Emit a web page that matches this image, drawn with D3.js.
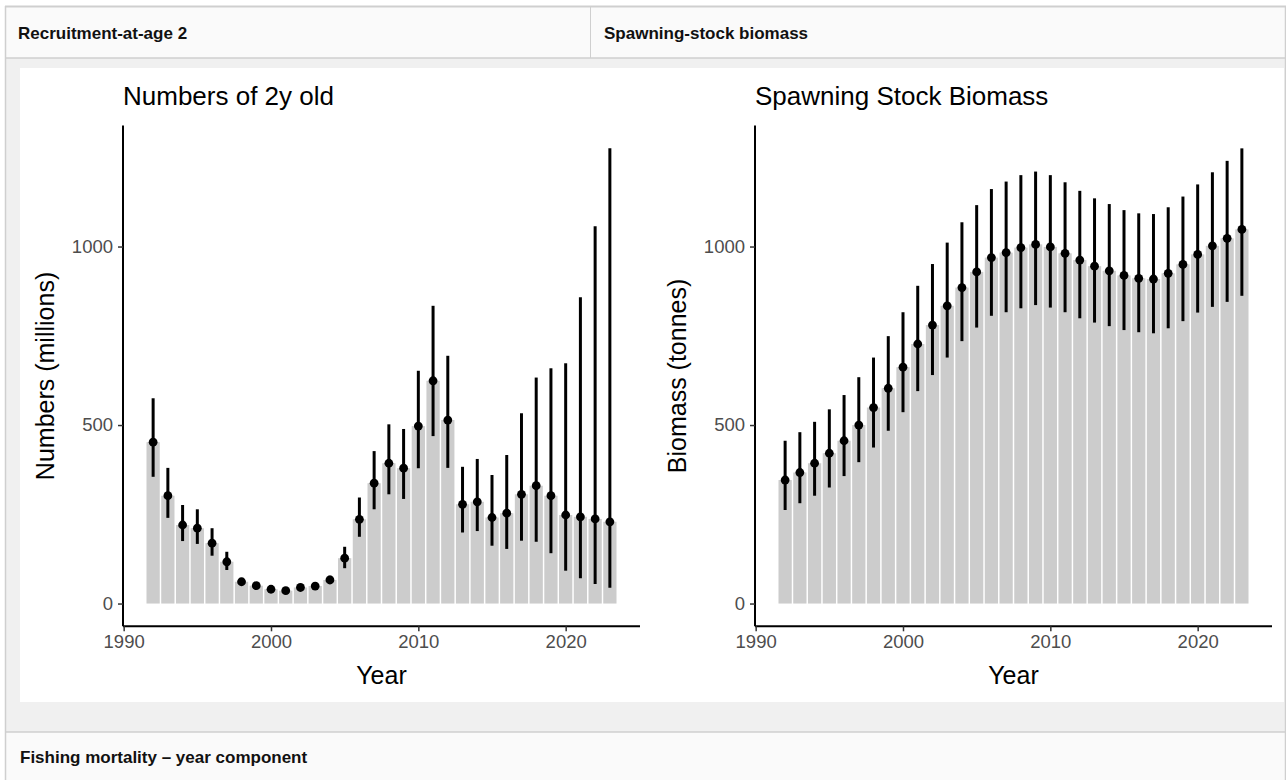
<!DOCTYPE html>
<html>
<head>
<meta charset="utf-8">
<script src="https://cdn.jsdelivr.net/npm/d3@7"></script>
<style>
  html, body { margin: 0; padding: 0; background: #ffffff; }
  svg { display: block; }
  text { font-family: "Liberation Sans", Arial, Helvetica, sans-serif; }
</style>
</head>
<body>
<svg id="chart" width="1286" height="780"></svg>
<script>
// ---- data ----
const years = [1992,1993,1994,1995,1996,1997,1998,1999,2000,2001,2002,2003,2004,2005,2006,2007,
               2008,2009,2010,2011,2012,2013,2014,2015,2016,2017,2018,2019,2020,2021,2022,2023];

const recEst  = [452,302,220,211,169,117,61,50,40,36,45,49,66,127,236,337,
                 393,379,497,624,514,278,285,241,253,306,330,302,248,243,237,229];
const recLow  = [355,240,175,167,134,94,52,43,34,31,38,42,56,99,187,264,
                 306,293,379,469,380,199,203,162,153,176,173,141,92,71,55,44];
const recHigh = [575,380,276,264,211,145,70,57,46,42,52,57,78,159,297,427,
                 502,489,652,834,694,383,405,360,416,533,633,659,673,858,1057,1275];

const ssbEst  = [346,367,393,421,456,500,549,603,662,727,780,834,885,929,969,983,
                 997,1006,999,981,962,945,932,919,911,909,925,950,978,1002,1023,1048];
const ssbLow  = [262,281,302,325,357,396,437,484,536,595,640,689,735,773,806,816,
                 827,836,829,816,799,787,777,766,760,757,771,791,815,831,845,862];
const ssbHigh = [456,480,509,544,584,634,689,749,816,890,951,1011,1068,1116,1161,1182,
                 1200,1210,1200,1180,1156,1135,1119,1102,1093,1091,1110,1140,1174,1208,1240,1275];

const xTicks = [1990, 2000, 2010, 2020];
const yTicks = [0, 500, 1000];

const panelHeaders = ["Recruitment-at-age 2", "Spawning-stock biomass"];
const lowerHeader = "Fishing mortality \u2013 year component";

const plots = [
  { title: "Numbers of 2y old", ylab: "Numbers (millions)", est: recEst, low: recLow, high: recHigh, x0: 123, x1: 640 },
  { title: "Spawning Stock Biomass", ylab: "Biomass (tonnes)", est: ssbEst, low: ssbLow, high: ssbHigh, x0: 755, x1: 1272 }
];

// ---- dashboard frame ----
const svg = d3.select("#chart");
const W = 1286, H = 780;

svg.append("rect").attr("x", 0).attr("y", 0).attr("width", W).attr("height", H).attr("fill", "#ffffff");
svg.append("rect").attr("x", 6).attr("y", 7).attr("width", W - 7).attr("height", 51).attr("fill", "#fafafa");
svg.append("rect").attr("x", 6).attr("y", 58).attr("width", W - 7).attr("height", 674).attr("fill", "#f0f0f0");
svg.append("rect").attr("x", 6).attr("y", 732).attr("width", W - 7).attr("height", 48).attr("fill", "#fafafa");
svg.append("rect").attr("x", 20).attr("y", 68).attr("width", 1264).attr("height", 634).attr("fill", "#ffffff");

const borderCol = "#cfcfcf";
svg.append("line").attr("x1", 5).attr("x2", W).attr("y1", 6.5).attr("y2", 6.5).attr("stroke", borderCol).attr("stroke-width", 2);
svg.append("line").attr("x1", 5.5).attr("x2", 5.5).attr("y1", 6).attr("y2", H).attr("stroke", borderCol).attr("stroke-width", 1.5);
svg.append("line").attr("x1", 1285.5).attr("x2", 1285.5).attr("y1", 6).attr("y2", H).attr("stroke", borderCol).attr("stroke-width", 1.5);
svg.append("line").attr("x1", 6).attr("x2", W).attr("y1", 58).attr("y2", 58).attr("stroke", borderCol).attr("stroke-width", 1.5);
svg.append("line").attr("x1", 6).attr("x2", W).attr("y1", 732).attr("y2", 732).attr("stroke", borderCol).attr("stroke-width", 1.5);
svg.append("line").attr("x1", 590.5).attr("x2", 590.5).attr("y1", 7).attr("y2", 58).attr("stroke", borderCol).attr("stroke-width", 1);

svg.selectAll("text.hdr").data(panelHeaders).enter().append("text")
  .attr("class", "hdr")
  .attr("x", (d, i) => i === 0 ? 18 : 604)
  .attr("y", 39)
  .attr("font-size", 17).attr("font-weight", "bold").attr("fill", "#111")
  .text(d => d);
svg.append("text").attr("x", 20).attr("y", 763)
  .attr("font-size", 17).attr("font-weight", "bold").attr("fill", "#111")
  .text(lowerHeader);

// ---- plots ----
const yMaxData = d3.max([d3.max(recHigh), d3.max(ssbHigh)]);
const yPad = yMaxData * 0.05;
const y = d3.scaleLinear().domain([-yPad, yMaxData + yPad]).range([626.3, 125.6]);
const xDomain = [years[0] - 0.45, years[years.length - 1] + 0.45];
const xPad = (xDomain[1] - xDomain[0]) * 0.05;

plots.forEach(p => {
  const g = svg.append("g");
  const x = d3.scaleLinear().domain([xDomain[0] - xPad, xDomain[1] + xPad]).range([p.x0, p.x1]);
  const bw = x(years[0] + 0.45) - x(years[0] - 0.45);

  g.selectAll("rect.bar").data(years).enter().append("rect")
    .attr("x", (d) => x(d) - bw / 2)
    .attr("width", bw)
    .attr("y", (d, i) => y(p.est[i]))
    .attr("height", (d, i) => y(0) - y(p.est[i]))
    .attr("fill", "#cccccc");

  g.selectAll("line.err").data(years).enter().append("line")
    .attr("x1", d => x(d)).attr("x2", d => x(d))
    .attr("y1", (d, i) => y(p.low[i])).attr("y2", (d, i) => y(p.high[i]))
    .attr("stroke", "#000").attr("stroke-width", 3);

  g.selectAll("circle.pt").data(years).enter().append("circle")
    .attr("cx", d => x(d)).attr("cy", (d, i) => y(p.est[i]))
    .attr("r", 4.4).attr("fill", "#000");

  const xAxis = g.append("g").attr("transform", `translate(0,${y.range()[0]})`)
    .call(d3.axisBottom(x).tickValues(xTicks).tickFormat(d3.format("d")).tickSize(5).tickPadding(4));
  xAxis.select(".domain").attr("stroke", "#000").attr("stroke-width", 2).attr("d", `M${p.x0},0H${p.x1}`);
  xAxis.selectAll(".tick line").attr("stroke", "#333").attr("stroke-width", 1.5);
  xAxis.selectAll(".tick text").attr("font-size", 18.5).attr("fill", "#4d4d4d")
    .attr("font-family", "'Liberation Sans', Arial, sans-serif");

  const yAxis = g.append("g").attr("transform", `translate(${p.x0},0)`)
    .call(d3.axisLeft(y).tickValues(yTicks).tickFormat(d3.format("d")).tickSize(5).tickPadding(5));
  yAxis.select(".domain").attr("stroke", "#000").attr("stroke-width", 2)
    .attr("d", `M0,${y.range()[0]}V${y.range()[1]}`);
  yAxis.selectAll(".tick line").attr("stroke", "#333").attr("stroke-width", 1.5);
  yAxis.selectAll(".tick text").attr("font-size", 18.5).attr("fill", "#4d4d4d")
    .attr("font-family", "'Liberation Sans', Arial, sans-serif");

  g.append("text").attr("x", p.x0).attr("y", 105)
    .attr("font-size", 26).attr("fill", "#000").text(p.title);
  g.append("text").attr("x", (p.x0 + p.x1) / 2).attr("y", 684)
    .attr("text-anchor", "middle").attr("font-size", 25).attr("fill", "#000").text("Year");
  g.append("text")
    .attr("transform", `translate(${p.x0 - 69},${(y.range()[0] + y.range()[1]) / 2}) rotate(-90)`)
    .attr("text-anchor", "middle").attr("font-size", 25).attr("fill", "#000").text(p.ylab);
});
</script>
</body>
</html>
